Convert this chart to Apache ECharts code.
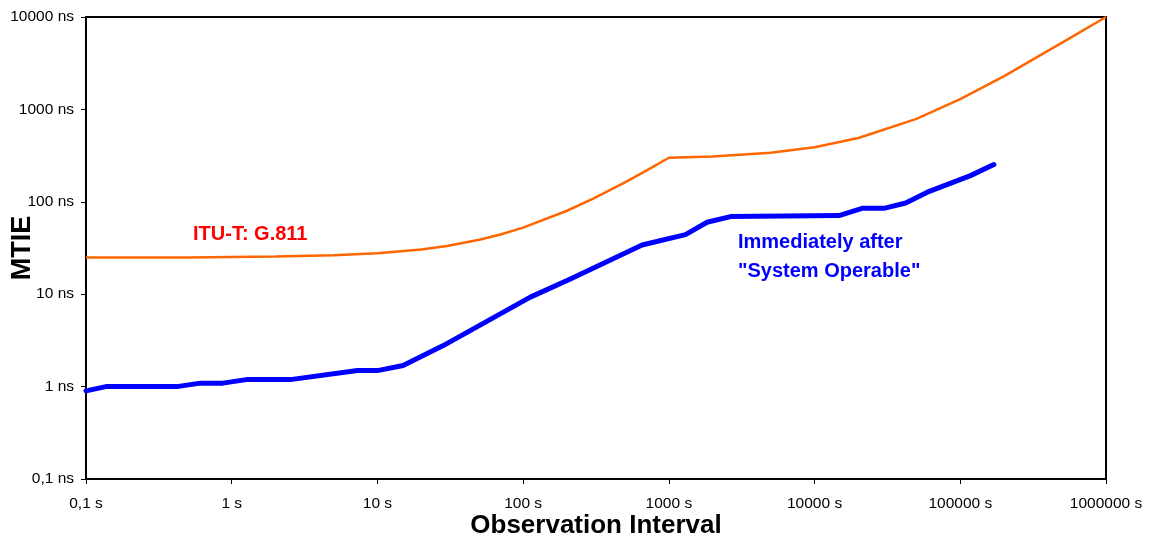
<!DOCTYPE html>
<html>
<head>
<meta charset="utf-8">
<script src="https://cdn.jsdelivr.net/npm/echarts@6/dist/echarts.min.js"></script>
<style>
html,body{margin:0;padding:0;background:#fff;}
#c{width:1159px;height:541px;}
</style>
</head>
<body>
<div id="c"></div>
<script>
// G.811 MTIE mask
const maskX = [0.1, 0.2, 0.5, 1, 2, 5, 10, 20, 30, 50, 70, 100, 200, 300, 500, 700, 1000, 2000, 5000, 10000, 20000, 50000, 100000, 200000, 500000, 1000000];
const maskY = [25, 25, 25, 25.3, 25.6, 26.4, 27.8, 30.5, 33.3, 38.8, 44.3, 52.5, 80, 107.5, 162.5, 217.5, 300, 310, 340, 390, 490, 790, 1290, 2290, 5290, 10000];

// Measured MTIE "Immediately after System Operable"
const measX = [0.1, 0.137, 0.42, 0.61, 0.87, 1.26, 2.52, 7.3, 10, 15, 28.3, 112, 211, 655, 1300, 1830, 2650, 14700, 21200, 29900, 42200, 59400, 117500, 170000];
const measY = [0.9, 1.0, 1.0, 1.09, 1.09, 1.19, 1.19, 1.49, 1.49, 1.69, 2.78, 9.3, 14.6, 34.1, 44.2, 60, 69.2, 71, 85, 85, 97, 127, 192, 253];

const xTickLabels = ['0,1 s', '1 s', '10 s', '100 s', '1000 s', '10000 s', '100000 s', '1000000 s'];
const yTickLabels = ['0,1 ns', '1 ns', '10 ns', '100 ns', '1000 ns', '10000 ns'];

const xAxisTitle = 'Observation Interval';
const yAxisTitle = 'MTIE';
const maskLabel = 'ITU-T: G.811';
const measLabel = 'Immediately after\n"System Operable"';

const FONT = "'Liberation Sans', Arial, sans-serif";
const chart = echarts.init(document.getElementById('c'));

function decadeIndex(v) { return Math.round(Math.log10(v)) + 1; }

chart.setOption({
  animation: false,
  backgroundColor: '#fff',
  grid: {
    left: 86, right: 53, top: 17, bottom: 62,
    containLabel: false, outerBoundsMode: 'none',
    show: true, borderColor: '#000', borderWidth: 2, backgroundColor: 'transparent'
  },
  xAxis: {
    type: 'log', logBase: 10, min: 0.1, max: 1000000, splitNumber: 7,
    name: xAxisTitle, nameLocation: 'middle', nameGap: 34, nameMoveOverlap: false,
    nameTextStyle: { fontFamily: FONT, fontSize: 26, fontWeight: 'bold', color: '#000' },
    axisLine: { lineStyle: { color: '#000', width: 2 } },
    axisTick: { length: 5, lineStyle: { color: '#000', width: 1 } },
    splitLine: { show: false },
    minorTick: { show: false },
    axisLabel: {
      margin: 17, color: '#000', fontFamily: FONT, fontSize: 15.5,
      formatter: v => xTickLabels[decadeIndex(v)] !== undefined ? xTickLabels[decadeIndex(v)] : ''
    }
  },
  yAxis: {
    type: 'log', logBase: 10, min: 0.1, max: 10000, splitNumber: 5,
    name: yAxisTitle, nameLocation: 'middle', nameGap: 50, nameRotate: 90, nameMoveOverlap: false,
    nameTextStyle: { fontFamily: FONT, fontSize: 27, fontWeight: 'bold', color: '#000' },
    axisLine: { lineStyle: { color: '#000', width: 2 } },
    axisTick: { length: 5, lineStyle: { color: '#000', width: 1 } },
    splitLine: { show: false },
    axisLabel: {
      margin: 12, color: '#000', fontFamily: FONT, fontSize: 15.5,
      formatter: v => yTickLabels[decadeIndex(v)] !== undefined ? yTickLabels[decadeIndex(v)] : ''
    }
  },
  series: [
    {
      name: maskLabel, type: 'line', showSymbol: false, symbol: 'none', smooth: false,
      data: maskX.map((x, i) => [x, maskY[i]]),
      lineStyle: { color: '#ff6600', width: 2.5 }
    },
    {
      name: 'measured', type: 'line', showSymbol: false, symbol: 'none',
      data: measX.map((x, i) => [x, measY[i]]),
      lineStyle: { color: '#0000ff', width: 5, cap: 'round', join: 'round' }
    }
  ],
  graphic: [
    {
      type: 'text', left: 193, top: 224,
      style: { text: maskLabel, fill: '#ff0000', font: 'bold 20px ' + FONT }
    },
    {
      type: 'text', left: 738, top: 228,
      style: { text: measLabel, fill: '#0000ff', font: 'bold 20px ' + FONT, lineHeight: 29 }
    }
  ]
});
</script>
</body>
</html>
